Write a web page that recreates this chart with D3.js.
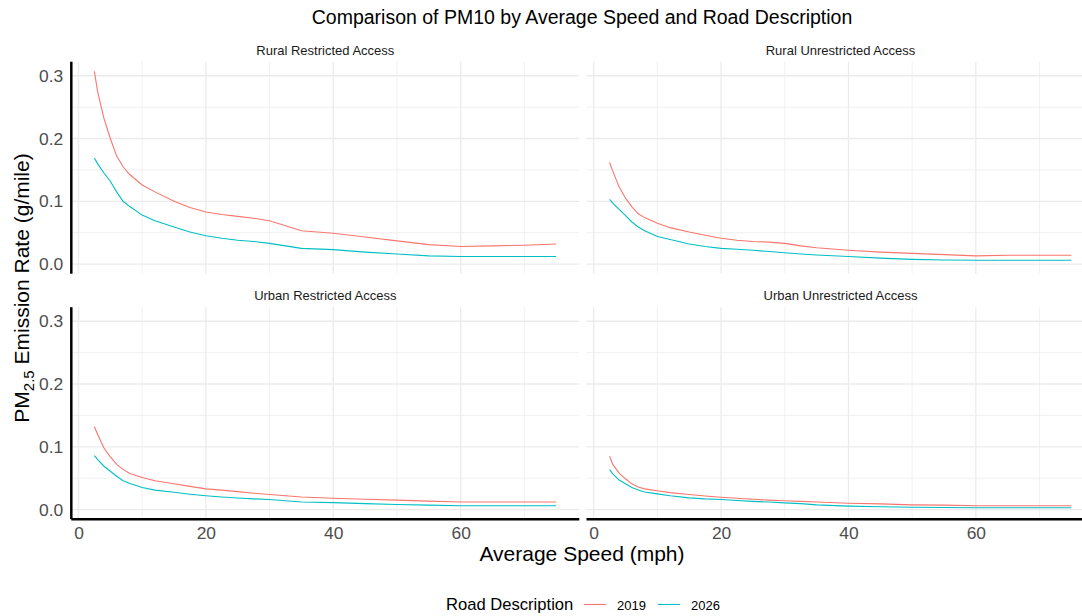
<!DOCTYPE html>
<html>
<head>
<meta charset="utf-8">
<script src="https://cdn.jsdelivr.net/npm/d3@7"></script>
<style>
  body { margin: 0; background: #fff; }
  svg { display: block; font-family: "Liberation Sans", Arial, sans-serif; }
</style>
</head>
<body>
<svg></svg>
<script>
const width = 1082;
const height = 616;

// data
const speeds = [2.5, 3, 4, 5, 6, 7, 8, 10, 12, 15, 17.5, 20, 22.5, 25, 27.5, 30, 32.5, 35, 40, 45, 50, 55, 60, 65, 70, 75];
const facets = ["Rural Restricted Access", "Rural Unrestricted Access", "Urban Restricted Access", "Urban Unrestricted Access"];
const years = ["2019", "2026"];
const xTicks = [0, 20, 40, 60];
const yTicks = [0, 0.1, 0.2, 0.3];

const ruralRestricted2019 = [0.307, 0.275, 0.232, 0.200, 0.172, 0.155, 0.143, 0.126, 0.115, 0.100, 0.090, 0.083, 0.079, 0.076, 0.073, 0.069, 0.061, 0.053, 0.049, 0.043, 0.037, 0.031, 0.028, 0.029, 0.030, 0.032];
const ruralRestricted2026 = [0.169, 0.160, 0.145, 0.132, 0.115, 0.100, 0.092, 0.078, 0.069, 0.059, 0.051, 0.045, 0.041, 0.038, 0.036, 0.033, 0.029, 0.025, 0.023, 0.019, 0.016, 0.013, 0.012, 0.012, 0.012, 0.012];
const ruralUnrestricted2019 = [0.162, 0.148, 0.123, 0.105, 0.091, 0.080, 0.074, 0.065, 0.058, 0.051, 0.046, 0.041, 0.038, 0.036, 0.035, 0.033, 0.029, 0.026, 0.022, 0.019, 0.017, 0.015, 0.013, 0.014, 0.014, 0.014];
const ruralUnrestricted2026 = [0.103, 0.097, 0.087, 0.077, 0.067, 0.059, 0.053, 0.044, 0.039, 0.032, 0.028, 0.025, 0.0235, 0.022, 0.020, 0.018, 0.016, 0.0145, 0.012, 0.0095, 0.0075, 0.0064, 0.006, 0.006, 0.006, 0.006];
const urbanRestricted2019 = [0.132, 0.120, 0.098, 0.084, 0.072, 0.064, 0.058, 0.051, 0.046, 0.041, 0.037, 0.033, 0.031, 0.0285, 0.026, 0.024, 0.022, 0.020, 0.018, 0.0165, 0.015, 0.0135, 0.012, 0.012, 0.012, 0.012];
const urbanRestricted2026 = [0.086, 0.080, 0.069, 0.061, 0.053, 0.046, 0.042, 0.035, 0.031, 0.0275, 0.0245, 0.022, 0.020, 0.0185, 0.017, 0.016, 0.014, 0.012, 0.011, 0.0095, 0.008, 0.007, 0.006, 0.006, 0.006, 0.006];
const urbanUnrestricted2019 = [0.085, 0.072, 0.058, 0.049, 0.041, 0.036, 0.033, 0.030, 0.027, 0.024, 0.0215, 0.0195, 0.018, 0.0165, 0.015, 0.014, 0.013, 0.012, 0.010, 0.009, 0.0075, 0.007, 0.006, 0.006, 0.006, 0.006];
const urbanUnrestricted2026 = [0.0635, 0.057, 0.047, 0.041, 0.035, 0.031, 0.028, 0.025, 0.022, 0.0186, 0.017, 0.016, 0.0145, 0.013, 0.012, 0.0106, 0.0095, 0.0075, 0.0055, 0.0045, 0.0037, 0.0032, 0.003, 0.003, 0.003, 0.003];

const seriesByFacet = [
    [ruralRestricted2019, ruralRestricted2026],
    [ruralUnrestricted2019, ruralUnrestricted2026],
    [urbanRestricted2019, urbanRestricted2026],
    [urbanUnrestricted2019, urbanUnrestricted2026]
];

const color = d3.scaleOrdinal().domain(years).range(["#F8766D", "#00BFC4"]);

let svg = d3.select("svg")
    .attr("width", width)
    .attr("height", height);

// panel layout
const panelW = 508;
const panelH = 212;
const panelX = [71.3, 586.5];
const panelY = [61.7, 307.2];

// ggplot style 5% expansion
const xMin = 2.5, xMax = 75;
const yMax = d3.max(seriesByFacet.flat(2));
const xPad = (xMax - xMin) * 0.05;
const yPad = yMax * 0.05;

let scaleX = d3.scaleLinear()
    .domain([xMin - xPad, xMax + xPad])
    .range([0, panelW]);
let scaleY = d3.scaleLinear()
    .domain([-yPad, yMax + yPad])
    .range([panelH, 0]);

const minorX = [10, 30, 50, 70];
const minorY = [0.05, 0.15, 0.25];

let line = d3.line()
    .x(d => scaleX(d.x))
    .y(d => scaleY(d.y));

facets.forEach((name, i) => {
    const col = i % 2;
    const row = Math.floor(i / 2);
    const g = svg.append("g")
        .attr("transform", `translate(${panelX[col]}, ${panelY[row]})`);

    // grid
    g.selectAll("line.minx").data(minorX).enter().append("line")
        .attr("x1", d => scaleX(d)).attr("x2", d => scaleX(d))
        .attr("y1", 0).attr("y2", panelH)
        .attr("stroke", "#ebebeb").attr("stroke-width", 0.7);
    g.selectAll("line.miny").data(minorY).enter().append("line")
        .attr("y1", d => scaleY(d)).attr("y2", d => scaleY(d))
        .attr("x1", 0).attr("x2", panelW)
        .attr("stroke", "#ebebeb").attr("stroke-width", 0.7);
    g.selectAll("line.majx").data(xTicks).enter().append("line")
        .attr("x1", d => scaleX(d)).attr("x2", d => scaleX(d))
        .attr("y1", 0).attr("y2", panelH)
        .attr("stroke", "#ebebeb").attr("stroke-width", 1.3);
    g.selectAll("line.majy").data(yTicks).enter().append("line")
        .attr("y1", d => scaleY(d)).attr("y2", d => scaleY(d))
        .attr("x1", 0).attr("x2", panelW)
        .attr("stroke", "#ebebeb").attr("stroke-width", 1.3);

    // strip title
    svg.append("text")
        .attr("x", panelX[col] + panelW / 2)
        .attr("y", panelY[row] - 7)
        .attr("text-anchor", "middle")
        .attr("font-size", 13)
        .attr("fill", "#1a1a1a")
        .text(name);

    // lines
    seriesByFacet[i].forEach((vals, k) => {
        const data = speeds.map((s, j) => ({x: s, y: vals[j]}));
        g.append("path")
            .datum(data)
            .attr("d", line)
            .attr("fill", "none")
            .attr("stroke", color(years[k]))
            .attr("stroke-width", 1.1);
    });

    // y axis on left column
    if (col === 0) {
        const axisY = d3.axisLeft(scaleY).tickValues(yTicks).tickFormat(d3.format(".1f")).tickSize(0).tickPadding(8);
        const ay = g.append("g").call(axisY);
        ay.select(".domain").remove();
        ay.selectAll("text").attr("font-size", 17.4).attr("fill", "#4d4d4d")
            .attr("font-family", "Liberation Sans, Arial, sans-serif");
        g.append("line")
            .attr("x1", 0).attr("x2", 0)
            .attr("y1", 0).attr("y2", panelH)
            .attr("stroke", "#000").attr("stroke-width", 2.5);
    }
    // x axis on bottom row
    if (row === 1) {
        const axisX = d3.axisBottom(scaleX).tickValues(xTicks).tickFormat(d3.format("d")).tickSize(0).tickPadding(7);
        const ax = g.append("g")
            .attr("transform", `translate(0, ${panelH})`)
            .call(axisX);
        ax.select(".domain").remove();
        ax.selectAll("text").attr("font-size", 17.4).attr("fill", "#4d4d4d")
            .attr("font-family", "Liberation Sans, Arial, sans-serif");
        g.append("line")
            .attr("x1", 0).attr("x2", panelW)
            .attr("y1", panelH).attr("y2", panelH)
            .attr("stroke", "#000").attr("stroke-width", 2.5);
    }
});

// title
svg.append("text")
    .attr("x", 582).attr("y", 24)
    .attr("text-anchor", "middle")
    .attr("font-size", 19.5)
    .attr("fill", "#000")
    .text("Comparison of PM10 by Average Speed and Road Description");

// axis titles
svg.append("text")
    .attr("x", 582).attr("y", 561)
    .attr("text-anchor", "middle")
    .attr("font-size", 21)
    .attr("fill", "#000")
    .text("Average Speed (mph)");

const yTitle = svg.append("text")
    .attr("transform", "translate(28.5, 288) rotate(-90)")
    .attr("text-anchor", "middle")
    .attr("font-size", 21)
    .attr("fill", "#000");
yTitle.append("tspan").text("PM");
yTitle.append("tspan").attr("font-size", 15).attr("dy", 5).text("2.5");
yTitle.append("tspan").attr("dy", -5).text(" Emission Rate (g/mile)");

// legend
svg.append("text")
    .attr("x", 446).attr("y", 610)
    .attr("font-size", 16.6)
    .attr("fill", "#000")
    .text("Road Description");

const legendX = [584, 658];
years.forEach((y, k) => {
    svg.append("line")
        .attr("x1", legendX[k]).attr("x2", legendX[k] + 22)
        .attr("y1", 604.5).attr("y2", 604.5)
        .attr("stroke", color(y)).attr("stroke-width", 1.1);
    svg.append("text")
        .attr("x", legendX[k] + 33).attr("y", 609.5)
        .attr("font-size", 13)
        .attr("fill", "#000")
        .text(y);
});
</script>
</body>
</html>
